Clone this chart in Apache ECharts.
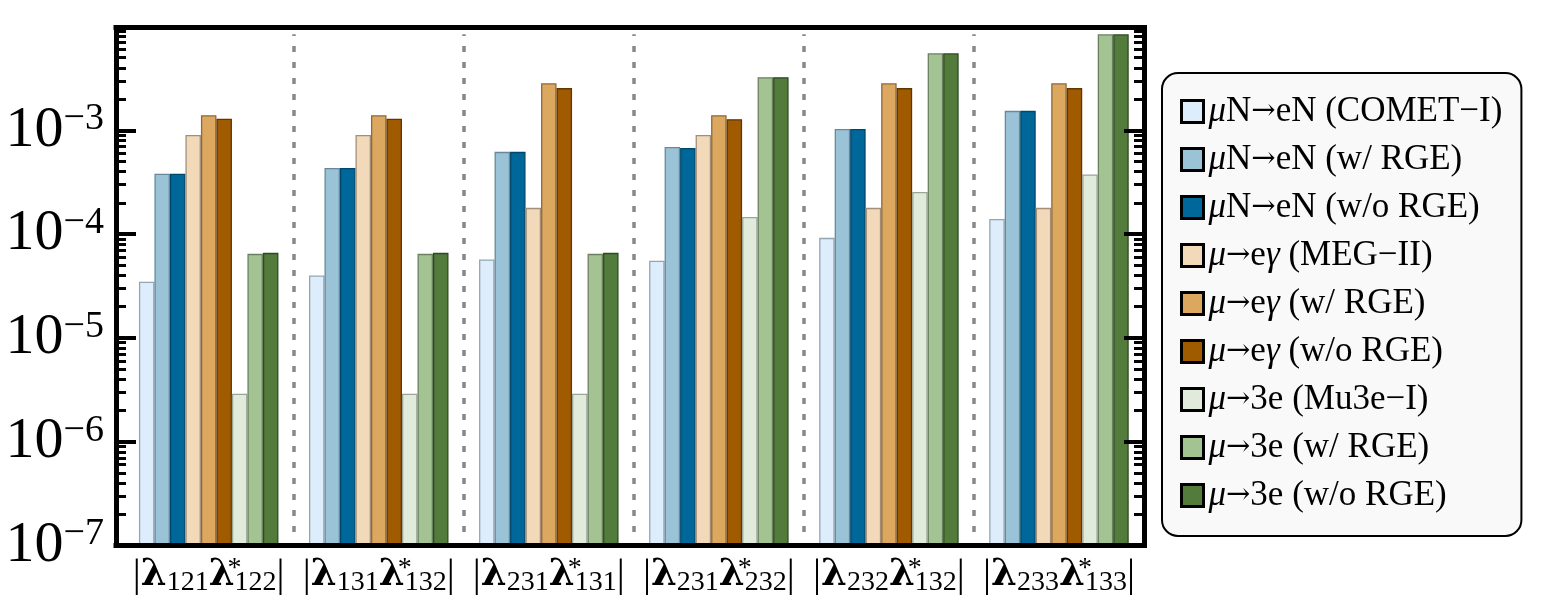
<!DOCTYPE html>
<html><head><meta charset="utf-8">
<script src="https://cdn.jsdelivr.net/npm/echarts@6/dist/echarts.min.js"></script>
<style>html,body{margin:0;padding:0;background:#fff}#c{width:1550px;height:604px}</style>
</head><body><div id="c"></div>
<script>
// ---- data ----
const couplings = [['121','122'],['131','132'],['231','131'],['231','232'],['232','132'],['233','133']];
const seriesNames = [
  'μN→eN (COMET−I)','μN→eN (w/ RGE)','μN→eN (w/o RGE)',
  'μ→eγ (MEG−II)','μ→eγ (w/ RGE)','μ→eγ (w/o RGE)',
  'μ→3e (Mu3e−I)','μ→3e (w/ RGE)','μ→3e (w/o RGE)'
];
const muNcometI  = [3.47e-5, 3.99e-5, 5.7e-5, 5.55e-5, 9.2e-5, 1.40e-4];
const muNwRGE    = [3.82e-4, 4.33e-4, 6.2e-4, 6.9e-4, 1.03e-3, 1.54e-3];
const muNwoRGE   = [3.82e-4, 4.33e-4, 6.2e-4, 6.75e-4, 1.03e-3, 1.54e-3];
const megII      = [9.0e-4, 9.0e-4, 1.79e-4, 9.0e-4, 1.79e-4, 1.79e-4];
const megwRGE    = [1.40e-3, 1.40e-3, 2.84e-3, 1.40e-3, 2.84e-3, 2.84e-3];
const megwoRGE   = [1.29e-3, 1.29e-3, 2.55e-3, 1.28e-3, 2.55e-3, 2.55e-3];
const mu3eI      = [2.9e-6, 2.9e-6, 2.9e-6, 1.46e-4, 2.55e-4, 3.76e-4];
const mu3ewRGE   = [6.45e-5, 6.45e-5, 6.45e-5, 3.25e-3, 5.52e-3, 8.41e-3];
const mu3ewoRGE  = [6.6e-5, 6.6e-5, 6.6e-5, 3.25e-3, 5.52e-3, 8.41e-3];
const seriesValues = [muNcometI, muNwRGE, muNwoRGE, megII, megwRGE, megwoRGE, mu3eI, mu3ewRGE, mu3ewoRGE];
const majorTickExponents = [-7, -6, -5, -4, -3];
const categoryPositions = [0, 1, 2, 3, 4, 5];
const separators = [0.5, 1.5, 2.5, 3.5, 4.5];
const yMin = 1e-7, yMax = 9.78e-3;

// ---- styles ----
const fills = ['#deedfb','#9bc3d7','#00679b','#f1d9b9','#dca75f','#a05a00','#e1ebdb','#a3c392','#527b3c'];
const edges = ['#93a5b3','#6a8897','#00476b','#a38f78','#8c6a3d','#5f3500','#9aa596','#6b8061','#2f4a22'];
const minorTickExponents = [];
for (let k = -7; k <= -3; k++) for (let m = 2; m <= 9; m++) minorTickExponents.push(k + Math.log10(m));

const serif = 'Liberation Serif';
const chart = echarts.init(document.getElementById('c'));
const lmin = Math.log10(yMin), lmax = Math.log10(yMax);

// tick axes in log10 space (same extent as the log data axis)
function tickAxis(pos, ticks, len, width, showLabel) {
  return {
    type: 'value', min: lmin, max: lmax, position: pos, z: 10,
    axisLine: { show: false, onZero: false },
    axisTick: { show: true, inside: true, length: len, customValues: ticks, lineStyle: { color: '#000', width: width } },
    axisLabel: {
      show: showLabel, customValues: ticks, margin: 12,
      formatter: v => '{a|10}{b|−' + Math.round(-v) + '}',
      rich: {
        a: { fontFamily: serif, fontSize: 58, lineHeight: 60, color: '#000' },
        b: { fontFamily: serif, fontSize: 38, lineHeight: 12, verticalAlign: 'top', color: '#000' }
      }
    },
    splitLine: { show: false }
  };
}

const series = seriesNames.map((name, s) => ({
  name: name, type: 'bar', xAxisIndex: 0, yAxisIndex: 0,
  barWidth: 15.5, barGap: '0%',
  data: seriesValues[s].map((v, i) => [categoryPositions[i], v]),
  itemStyle: { color: fills[s], borderColor: edges[s], borderWidth: 1.3 },
  emphasis: { disabled: true }
}));
// the middle series (index 4) has zero bar offset, so its markLine sits at the true x
series[4].markLine = {
  silent: true, symbol: 'none', label: { show: false },
  lineStyle: { color: '#888', width: 3.5, type: [6, 10] },
  data: separators.map(x => [{ coord: [x, 1.35e-7] }, { coord: [x, 8.4e-3] }])
};

chart.setOption({
  animation: false,
  backgroundColor: '#fff',
  grid: { left: 116, top: 27.5, width: 1028, height: 518, containLabel: false },
  xAxis: [{
    type: 'value', min: -0.545, max: 5.5, position: 'bottom', z: 10,
    axisLine: { show: true, onZero: false, lineStyle: { color: '#000', width: 5, cap: 'square' } },
    axisTick: { show: false }, splitLine: { show: false },
    axisLabel: {
      customValues: categoryPositions, margin: 9,
      formatter: v => { const c = couplings[Math.round(v)]; return '{bar||}{lam|λ}{sub|' + c[0] + '}{lam|λ}{sup|*}{sub|' + c[1] + '}{bar||}'; },
      rich: {
        bar: { fontFamily: serif, fontSize: 40, lineHeight: 42, color: '#000' },
        lam: { fontFamily: 'DejaVu Serif', fontWeight: 'bold', fontSize: 37, lineHeight: 42, color: '#000' },
        sub: { fontFamily: serif, fontSize: 28, lineHeight: 16, verticalAlign: 'bottom', color: '#000' },
        sup: { fontFamily: serif, fontSize: 28, lineHeight: 38, verticalAlign: 'top', width: 0, color: '#000' }
      }
    }
  }, {
    type: 'value', min: -0.545, max: 5.5, position: 'top', z: 10,
    axisLine: { show: true, onZero: false, lineStyle: { color: '#000', width: 5, cap: 'square' } },
    axisTick: { show: false }, axisLabel: { show: false }, splitLine: { show: false }
  }],
  yAxis: [
    {
      type: 'log', logBase: 10, min: yMin, max: yMax, position: 'left', startValue: yMin, z: 10,
      axisLine: { show: true, onZero: false, lineStyle: { color: '#000', width: 5, cap: 'square' } },
      axisTick: { show: false }, axisLabel: { show: false }, splitLine: { show: false }
    },
    tickAxis('left', majorTickExponents, 20, 4, true),
    tickAxis('left', minorTickExponents, 10, 3, false),
    Object.assign(tickAxis('right', majorTickExponents, 20, 4, false),
      { axisLine: { show: true, onZero: false, lineStyle: { color: '#000', width: 5, cap: 'square' } } }),
    tickAxis('right', minorTickExponents, 10, 3, false)
  ],
  legend: {
    orient: 'vertical', left: 1162, top: 73,
    data: seriesNames, icon: 'rect', itemWidth: 22, itemHeight: 22, itemGap: 13,
    padding: [21, 19, 23, 18],
    backgroundColor: '#f9f9f9', borderColor: '#000', borderWidth: 2, borderRadius: 16,
    itemStyle: { borderColor: '#000', borderWidth: 3 },
    selectedMode: false,
    formatter: n => n.replace('μ', '{i|μ}').replace('γ', '{i|γ}').replace('→', '{ar|→}'),
    textStyle: {
      fontFamily: serif, fontSize: 35, lineHeight: 30, color: '#000',
      rich: {
        i: { fontFamily: serif, fontStyle: 'italic', fontSize: 35, lineHeight: 30, color: '#000' },
        ar: { fontFamily: 'DejaVu Serif', fontSize: 29, lineHeight: 30, color: '#000' }
      }
    }
  },
  series: series
});
</script>
</body></html>
